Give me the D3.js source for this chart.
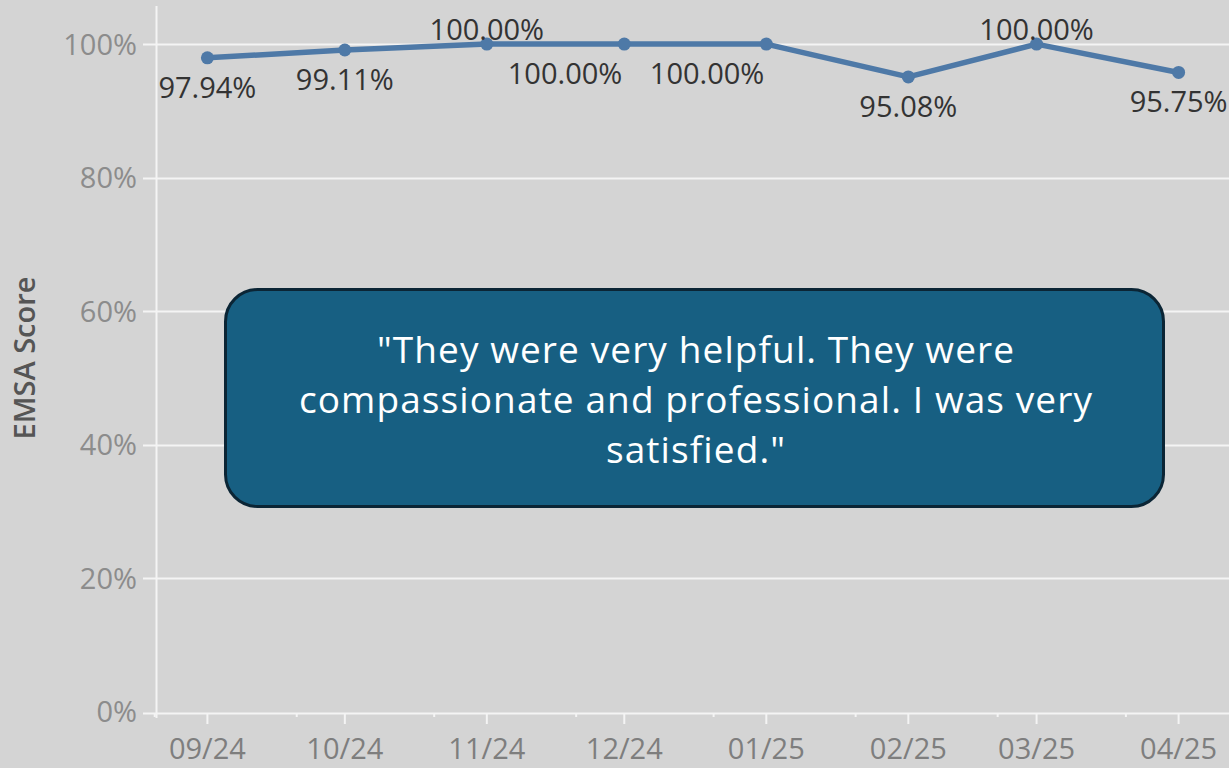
<!DOCTYPE html>
<html>
<head>
<meta charset="utf-8">
<script src="https://cdn.jsdelivr.net/npm/d3@7"></script>
<style>
  html, body { margin: 0; padding: 0; background: #d4d4d4; }
  svg { display: block; }
</style>
</head>
<body>
<svg id="chart" width="1229" height="768"></svg>
<script>
const months = ['2024-09', '2024-10', '2024-11', '2024-12', '2025-01', '2025-02', '2025-03', '2025-04'];
const scores = [0.9794, 0.9911, 1.0, 1.0, 1.0, 0.9508, 1.0, 0.9575];
// where tableau put each mark label
const labelSide = ['below', 'below', 'above', 'belowLeft', 'belowLeft', 'below', 'above', 'below'];
const yTicks = [0, 0.2, 0.4, 0.6, 0.8, 1.0];
const quoteLines = [
    '"They were very helpful. They were',
    'compassionate and professional. I was very',
    'satisfied."'
];

const width = 1229;
const height = 768;
const parse = d3.timeParse('%Y-%m');
const data = months.map((m, i) => ({date: parse(m), v: scores[i], side: labelSide[i]}));

const x = d3.scaleTime()
    .domain([new Date(2024, 7, 21), new Date(2025, 3, 12)])
    .range([157, 1229]);
const y = d3.scaleLinear()
    .domain([0, 1.057])
    .range([712, 6]);

const svg = d3.select('#chart')
    .style('font-family', '"Open Sans", sans-serif');

svg.append('rect')
    .attr('width', width)
    .attr('height', height)
    .attr('fill', '#d4d4d4');

// gridlines + y tick labels
const yAxis = svg.append('g');
yAxis.selectAll('line')
    .data(yTicks.filter(d => d > 0))
    .join('line')
    .attr('x1', 143)
    .attr('x2', width)
    .attr('y1', d => Math.round(y(d)) + 0.5)
    .attr('y2', d => Math.round(y(d)) + 0.5)
    .attr('stroke', '#f4f4f4')
    .attr('stroke-width', 2);
yAxis.selectAll('text')
    .data(yTicks)
    .join('text')
    .attr('x', 137)
    .attr('y', d => y(d))
    .attr('dy', '0.36em')
    .attr('text-anchor', 'end')
    .attr('fill', '#8c8c8c')
    .style('font-size', '29px')
    .text(d3.format('.0%'));

// axis lines
svg.append('line')
    .attr('x1', 156.5).attr('x2', 156.5)
    .attr('y1', 6).attr('y2', 718)
    .attr('stroke', '#f4f4f4').attr('stroke-width', 2);
svg.append('line')
    .attr('x1', 143).attr('x2', width)
    .attr('y1', 713.5).attr('y2', 713.5)
    .attr('stroke', '#f4f4f4').attr('stroke-width', 2);

// x ticks
const xAxis = svg.append('g');
xAxis.selectAll('line.major')
    .data(data)
    .join('line')
    .attr('class', 'major')
    .attr('x1', d => x(d.date)).attr('x2', d => x(d.date))
    .attr('y1', 713).attr('y2', 724)
    .attr('stroke', '#f4f4f4').attr('stroke-width', 2);
xAxis.selectAll('line.minor')
    .data(data.map(d => d3.timeHour.offset(d3.timeMonth.offset(d.date, -1), 19 * 24 + 12)))
    .join('line')
    .attr('class', 'minor')
    .attr('x1', d => x(d)).attr('x2', d => x(d))
    .attr('y1', 713).attr('y2', 717)
    .attr('stroke', '#f4f4f4').attr('stroke-width', 2);
xAxis.selectAll('text')
    .data(data)
    .join('text')
    .attr('x', d => x(d.date))
    .attr('y', 759)
    .attr('text-anchor', 'middle')
    .attr('fill', '#7e7e7e')
    .style('font-size', '29px')
    .text(d => d3.timeFormat('%m/%y')(d.date));

// y axis title
svg.append('text')
    .attr('transform', 'translate(35,358) rotate(-90)')
    .attr('text-anchor', 'middle')
    .attr('fill', '#555')
    .style('font-size', '29px')
    .style('font-weight', '600')
    .text('EMSA Score');

// line + marks
const line = d3.line()
    .x(d => x(d.date))
    .y(d => y(d.v));
svg.append('path')
    .datum(data)
    .attr('d', line)
    .attr('fill', 'none')
    .attr('stroke', '#4e79a7')
    .attr('stroke-width', 5.5)
    .attr('stroke-linejoin', 'round');
svg.append('g')
    .selectAll('circle')
    .data(data)
    .join('circle')
    .attr('cx', d => x(d.date))
    .attr('cy', d => y(d.v))
    .attr('r', 6.5)
    .attr('fill', '#4e79a7');

// mark labels
svg.append('g')
    .selectAll('text')
    .data(data)
    .join('text')
    .attr('x', d => d.side === 'belowLeft' ? x(d.date) - 2 : x(d.date))
    .attr('y', d => d.side === 'above' ? y(d.v) - 4 : y(d.v) + 40)
    .attr('text-anchor', d => d.side === 'belowLeft' ? 'end' : 'middle')
    .attr('fill', '#333')
    .style('font-size', '29px')
    .text(d => d3.format('.2%')(d.v));

// quote callout
const box = svg.append('g');
box.append('rect')
    .attr('x', 225.5).attr('y', 289.5)
    .attr('width', 938).attr('height', 217)
    .attr('rx', 32).attr('ry', 32)
    .attr('fill', '#175f82')
    .attr('stroke', '#0b2535')
    .attr('stroke-width', 3);
box.selectAll('text')
    .data(quoteLines)
    .join('text')
    .attr('x', 696)
    .attr('y', (d, i) => 363 + i * 50)
    .attr('text-anchor', 'middle')
    .attr('fill', '#fff')
    .style('font-size', '37px')
    .style('letter-spacing', '1.1px')
    .text(d => d);
</script>
</body>
</html>
